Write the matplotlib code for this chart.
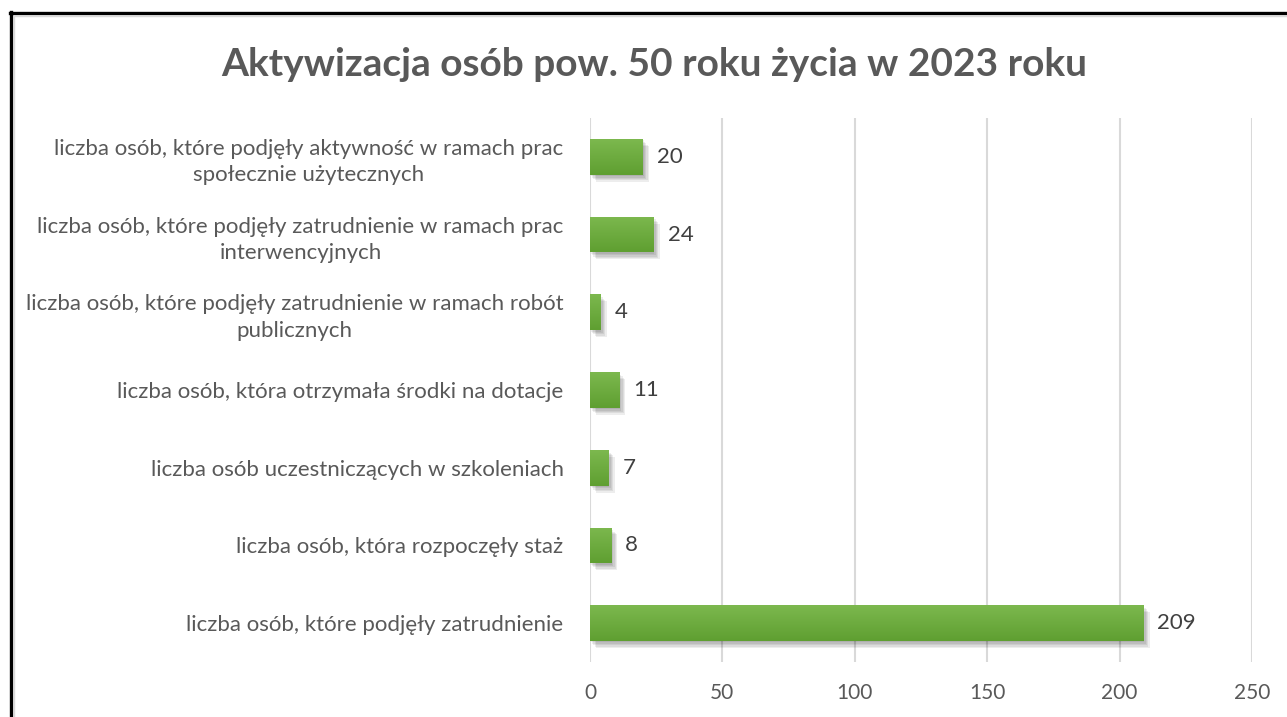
import matplotlib
matplotlib.use("Agg")
import matplotlib.pyplot as plt
import numpy as np
from matplotlib.lines import Line2D
import matplotlib.patheffects as pe
from matplotlib.colors import LinearSegmentedColormap

categories = [
    "liczba osób, które podjęły aktywność w ramach prac\nspołecznie użytecznych",
    "liczba osób, które podjęły zatrudnienie w ramach prac\ninterwencyjnych",
    "liczba osób, które podjęły zatrudnienie w ramach robót\npublicznych",
    "liczba osób, która otrzymała środki na dotacje",
    "liczba osób uczestniczących w szkoleniach",
    "liczba osób, która rozpoczęły staż",
    "liczba osób, które podjęły zatrudnienie",
]
values = [20, 24, 4, 11, 7, 8, 209]
xticks = [0, 50, 100, 150, 200, 250]
title = "Aktywizacja osób pow. 50 roku życia w 2023 roku"

plt.rcParams['font.family'] = ['Lato', 'DejaVu Sans']

W, H = 1287, 717
fig = plt.figure(figsize=(W / 100, H / 100), dpi=100)
ax = fig.add_axes([590 / W, 55 / H, 662 / W, 544 / H])

n = len(categories)
ypos = np.arange(n)[::-1]
shadow = [pe.SimplePatchShadow(offset=(o, -o - 0.5), shadow_rgbFace="#000000", alpha=0.07)
          for o in (0.5, 1.5, 2.5, 3.5, 4.5)] + [pe.Normal()]
bars = ax.barh(ypos, values, height=0.46, color="#6aab3c", zorder=3, path_effects=shadow)

grad = np.linspace(0, 1, 64).reshape(-1, 1)
cmap = LinearSegmentedColormap.from_list("g", ["#7cb84e", "#5f9f31"])
for b in bars:
    x0, y0, w, h = b.get_x(), b.get_y(), b.get_width(), b.get_height()
    im = ax.imshow(grad, extent=[x0, x0 + w, y0, y0 + h], origin="upper", cmap=cmap,
                   aspect="auto", zorder=4)
    im.set_clip_path(b)

for b, v in zip(bars, values):
    ax.text(b.get_width() + 5.3, b.get_y() + b.get_height() / 2, str(v),
            va="center", ha="left", fontsize=16, color="#404040", zorder=5)

ax.set_xlim(0, 250)
ax.set_ylim(-0.5, n - 0.5)
ax.set_xticks(xticks)
ax.set_xticklabels([str(t) for t in xticks], fontsize=15, color="#595959")
ax.set_yticks(ypos)
ax.set_yticklabels(categories, fontsize=16, color="#595959", multialignment="center",
                   linespacing=1.4)
ax.tick_params(axis="y", length=0, pad=19)
ax.tick_params(axis="x", length=0, pad=15)
ax.xaxis.grid(True, color="#d9d9d9", linewidth=1.5, zorder=0)
ax.set_axisbelow(True)
for s in ax.spines.values():
    s.set_visible(False)

fig.text(654 / W, 1 - 65 / H, title, ha="center", va="center", fontsize=28,
         fontweight="bold", color="#595959")

fig.add_artist(Line2D([11 / W, 11 / W], [0, 1 - 12 / H], color="black", linewidth=2.4, transform=fig.transFigure))
fig.add_artist(Line2D([10 / W, 1], [1 - 13 / H, 1 - 13 / H], color="black", linewidth=2.4, transform=fig.transFigure))
fig.add_artist(Line2D([13.5 / W, 1], [1 - 15.5 / H, 1 - 15.5 / H], color="#d9d9d9", linewidth=1, transform=fig.transFigure))
fig.add_artist(Line2D([13.5 / W, 13.5 / W], [0, 1 - 15.5 / H], color="#d9d9d9", linewidth=1, transform=fig.transFigure))

fig.savefig("out.png", dpi=100)
